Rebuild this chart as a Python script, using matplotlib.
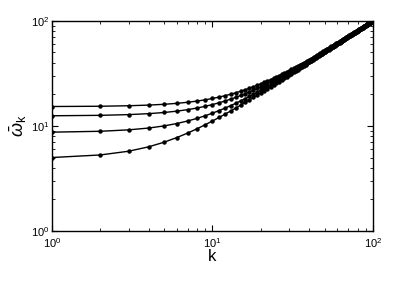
import numpy as np
import matplotlib
matplotlib.use("Agg")
import matplotlib.pyplot as plt

plt.rcParams['font.family'] = ['Liberation Sans', 'DejaVu Sans']
plt.rcParams['mathtext.fontset'] = 'custom'
plt.rcParams['mathtext.rm'] = 'Liberation Sans'
plt.rcParams['mathtext.it'] = 'Liberation Sans:italic'

k = np.arange(1, 101)

# curves, one value per integer k (bottom -> top)
w_a = [5.0, 5.29, 5.74, 6.32, 7.0, 7.75, 8.54, 9.38, 10.25, 11.14,
       12.04, 12.96, 13.89, 14.83, 15.78, 16.73, 17.69, 18.65, 19.62, 20.59,
       21.57, 22.54, 23.52, 24.5, 25.48, 26.46, 27.44, 28.43, 29.41, 30.4,
       31.39, 32.37, 33.36, 34.35, 35.34, 36.33, 37.32, 38.32, 39.31, 40.3,
       41.29, 42.29, 43.28, 44.27, 45.27, 46.26, 47.26, 48.25, 49.24, 50.24,
       51.24, 52.23, 53.23, 54.22, 55.22, 56.21, 57.21, 58.21, 59.2, 60.2,
       61.2, 62.19, 63.19, 64.19, 65.18, 66.18, 67.18, 68.18, 69.17, 70.17,
       71.17, 72.17, 73.16, 74.16, 75.16, 76.16, 77.16, 78.15, 79.15, 80.15,
       81.15, 82.15, 83.14, 84.14, 85.14, 86.14, 87.14, 88.14, 89.13, 90.13,
       91.13, 92.13, 93.13, 94.13, 95.13, 96.12, 97.12, 98.12, 99.12, 100.12]
w_b = [8.72, 8.89, 9.17, 9.54, 10.0, 10.54, 11.14, 11.79, 12.49, 13.23,
       14.0, 14.8, 15.62, 16.46, 17.32, 18.19, 19.08, 19.97, 20.88, 21.79,
       22.72, 23.64, 24.58, 25.51, 26.46, 27.4, 28.35, 29.31, 30.27, 31.22,
       32.2, 33.17, 34.14, 35.1, 36.07, 37.04, 38.01, 38.99, 39.96, 40.93,
       41.91, 42.89, 43.87, 44.85, 45.83, 46.81, 47.8, 48.78, 49.77, 50.75,
       51.73, 52.72, 53.71, 54.69, 55.68, 56.67, 57.65, 58.64, 59.63, 60.62,
       61.61, 62.6, 63.6, 64.59, 65.58, 66.57, 67.56, 68.55, 69.54, 70.54,
       71.53, 72.52, 73.51, 74.51, 75.5, 76.49, 77.49, 78.48, 79.47, 80.47,
       81.46, 82.46, 83.45, 84.45, 85.44, 86.44, 87.43, 88.43, 89.42, 90.42,
       91.41, 92.41, 93.4, 94.4, 95.39, 96.39, 97.39, 98.38, 99.38, 100.37]
w_c = [12.49, 12.61, 12.81, 13.08, 13.42, 13.82, 14.28, 14.8, 15.36, 15.97,
       16.61, 17.29, 18.0, 18.73, 19.49, 20.27, 21.07, 21.89, 22.72, 23.56,
       24.41, 25.28, 26.15, 27.04, 27.93, 28.83, 29.73, 30.64, 31.56, 32.48,
       33.41, 34.34, 35.27, 36.21, 37.15, 38.09, 39.04, 39.99, 40.94, 41.89,
       42.85, 43.81, 44.77, 45.73, 46.69, 47.66, 48.62, 49.59, 50.55, 51.52,
       52.5, 53.47, 54.44, 55.42, 56.39, 57.37, 58.34, 59.32, 60.3, 61.28,
       62.26, 63.24, 64.22, 65.2, 66.18, 67.16, 68.14, 69.13, 70.11, 71.1,
       72.08, 73.07, 74.05, 75.04, 76.03, 77.01, 78.0, 78.99, 79.98, 80.96,
       81.95, 82.94, 83.93, 84.92, 85.91, 86.9, 87.89, 88.88, 89.87, 90.86,
       91.85, 92.84, 93.83, 94.82, 95.81, 96.8, 97.8, 98.79, 99.78, 100.77]
w_d = [15.3, 15.39, 15.56, 15.78, 16.06, 16.4, 16.79, 17.23, 17.72, 18.25,
       18.81, 19.42, 20.05, 20.71, 21.4, 22.11, 22.85, 23.6, 24.37, 25.16,
       25.96, 26.78, 27.6, 28.44, 29.29, 30.15, 31.02, 31.89, 32.77, 33.66,
       34.55, 35.45, 36.36, 37.27, 38.18, 39.1, 40.02, 40.95, 41.88, 42.81,
       43.75, 44.69, 45.63, 46.57, 47.52, 48.47, 49.42, 50.37, 51.32, 52.28,
       53.23, 54.19, 55.15, 56.11, 57.07, 58.04, 59.0, 59.97, 60.94, 61.91,
       62.87, 63.84, 64.81, 65.79, 66.76, 67.73, 68.71, 69.68, 70.66, 71.63,
       72.61, 73.59, 74.57, 75.55, 76.53, 77.51, 78.49, 79.47, 80.45, 81.43,
       82.42, 83.4, 84.39, 85.37, 86.36, 87.34, 88.33, 89.31, 90.3, 91.29,
       92.27, 93.26, 94.25, 95.24, 96.22, 97.21, 98.2, 99.19, 100.18, 101.16]

fig = plt.figure(figsize=(4.15, 2.82), dpi=100)
ax = fig.add_axes([0.125, 0.181, 0.774, 0.745])

for w in (w_a, w_b, w_c, w_d):
    ax.loglog(k, w, color='black', lw=1.0, marker='o', ms=2.2)

ax.set_xlim(1, 100)
ax.set_ylim(1, 100)
ax.tick_params(which='both', direction='in', top=True, right=True, labelsize=8)
ax.tick_params(axis='x', pad=4)
ax.tick_params(axis='y', pad=2)
ax.tick_params(which='major', length=4, width=0.8)
ax.tick_params(which='minor', length=2, width=0.6)
for s in ax.spines.values():
    s.set_linewidth(1.0)

ax.set_xlabel('k', fontsize=12, labelpad=-1)
ax.set_ylabel(r'$\bar{\omega}_\mathrm{k}$', fontsize=13, labelpad=1)

fig.savefig('out.png', dpi=100)
